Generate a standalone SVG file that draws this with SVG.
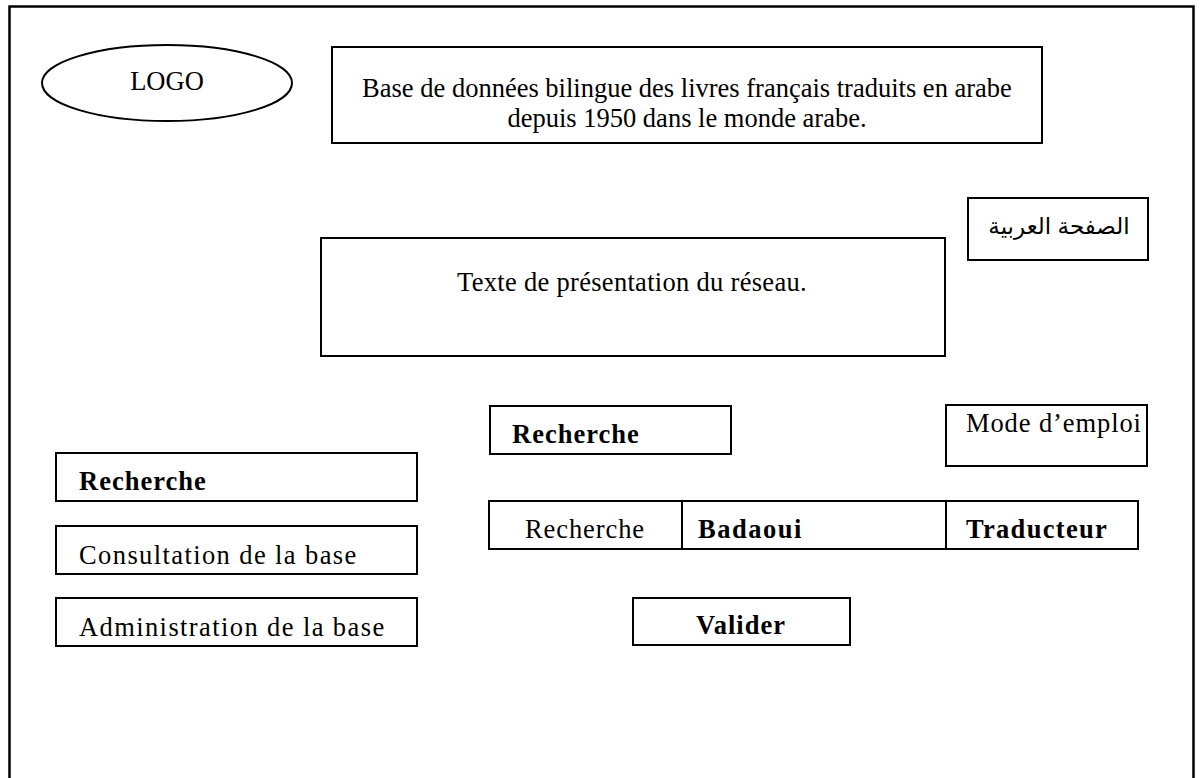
<svg xmlns="http://www.w3.org/2000/svg" width="1202" height="778" viewBox="0 0 1202 778">
  <style>
    .frame { fill: none; stroke: #000000; stroke-width: 2.5; }
    .box { fill: #ffffff; stroke: #000000; stroke-width: 2; }
    .t { font-family: "Liberation Serif", "Times New Roman", serif; font-size: 26.5px; fill: #000000; }
    .b { font-weight: bold; letter-spacing: 1px; }
    .w0 { letter-spacing: 0.3px; }
    .w1 { letter-spacing: 0.9px; }
    .w2 { letter-spacing: 1.4px; }
    .ar { font-family: "Liberation Sans", Arial, "DejaVu Sans", sans-serif; font-size: 23px; fill: #000000; }
    .mid { text-anchor: middle; }
  </style>
  <rect width="1202" height="778" fill="#ffffff"/>
  <!-- page frame, open at the bottom -->
  <path class="frame" d="M9.5,790 V6.5 H1193.5 V790"/>

  <g id="logo">
    <ellipse class="box" cx="167" cy="83" rx="125" ry="38"/>
    <text class="t mid" x="167" y="90">LOGO</text>
  </g>

  <g id="title">
    <rect class="box" x="332" y="47" width="710" height="96"/>
    <text class="t mid" x="687" y="97">Base de données bilingue des livres français traduits en arabe</text>
    <text class="t mid" x="687" y="127">depuis 1950 dans le monde arabe.</text>
  </g>

  <g id="arabic-page">
    <rect class="box" x="968" y="198" width="180" height="62"/>
    <text class="ar mid" x="1059" y="234" direction="rtl">الصفحة العربية</text>
  </g>

  <g id="presentation">
    <rect class="box" x="321" y="238" width="624" height="118"/>
    <text class="t w0 mid" x="632" y="291">Texte de présentation du réseau.</text>
  </g>

  <g id="mode-emploi">
    <rect class="box" x="946" y="405" width="201" height="61"/>
    <text class="t w1" x="966" y="432">Mode d’emploi</text>
  </g>

  <g id="recherche-top">
    <rect class="box" x="490" y="406" width="241" height="48"/>
    <text class="t b" x="512" y="443">Recherche</text>
  </g>

  <g id="menu-recherche">
    <rect class="box" x="56" y="453" width="361" height="48"/>
    <text class="t b" x="79" y="490">Recherche</text>
  </g>

  <g id="menu-consultation">
    <rect class="box" x="56" y="526" width="361" height="48"/>
    <text class="t w2" x="79" y="564">Consultation de la base</text>
  </g>

  <g id="menu-administration">
    <rect class="box" x="56" y="598" width="361" height="48"/>
    <text class="t w2" x="79" y="636">Administration de la base</text>
  </g>

  <g id="search-row">
    <rect class="box" x="489" y="501" width="649" height="48"/>
    <line class="box" x1="682" y1="501" x2="682" y2="549"/>
    <line class="box" x1="946" y1="501" x2="946" y2="549"/>
    <text class="t w1 mid" x="585" y="538">Recherche</text>
    <text class="t b" x="698" y="538" style="letter-spacing:1.5px">Badaoui</text>
    <text class="t b" x="966" y="538" style="letter-spacing:1.3px">Traducteur</text>
  </g>

  <g id="valider">
    <rect class="box" x="633" y="598" width="217" height="47"/>
    <text class="t b mid" x="741" y="634">Valider</text>
  </g>

  <g id="connectors"></g>
</svg>
